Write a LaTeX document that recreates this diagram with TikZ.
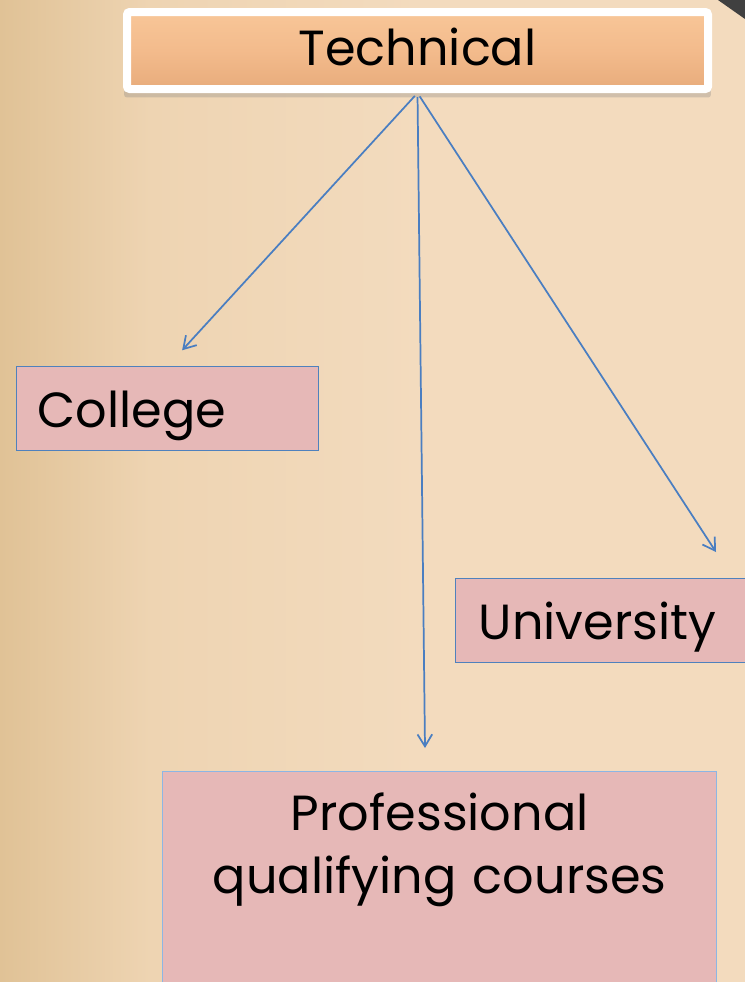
\documentclass[tikz,border=0pt]{standalone}
\usepackage{fontspec}
\setmainfont{Poppins}
\usetikzlibrary{arrows.meta,shadows}

\definecolor{bgLeft}{RGB}{224,194,150}
\definecolor{bgMid}{RGB}{238,212,178}
\definecolor{bgRight}{RGB}{243,219,190}
\definecolor{techFill}{RGB}{243,187,140}
\definecolor{techTop}{RGB}{248,198,152}
\definecolor{techBottom}{RGB}{232,172,124}
\definecolor{choiceFill}{RGB}{230,184,183}
\definecolor{choiceEdge}{RGB}{79,129,189}
\definecolor{choiceEdgeLight}{RGB}{140,182,228}
\definecolor{linkBlue}{RGB}{74,126,193}

\tikzset{
  title/.style={draw=white, line width=6pt, rounded corners=2pt, top color=techTop,
    bottom color=techBottom, middle color=techFill, inner sep=0pt,
    minimum width=435.75pt, minimum height=57.75pt,
    drop shadow={shadow xshift=0pt, shadow yshift=-6pt, shadow scale=1.01, opacity=0.3}},
  choice/.style={draw=choiceEdge, fill=choiceFill, line width=1.1pt, anchor=north west,
    inner ysep=0pt, minimum height=63pt, text height=32pt, text depth=4pt},
  link/.style={draw=linkBlue, line width=1.3pt, -{Straight Barb[length=9pt,width=11pt]}},
}

\begin{document}
\begin{tikzpicture}[x=0.75pt,y=0.75pt,yscale=-1,xscale=1,
  every node/.style={font=\fontsize{37}{47}\selectfont}]
\useasboundingbox (0,0) rectangle (745,982);
\clip (0,0) rectangle (745,982);

% background
\fill[bgRight] (0,0) rectangle (745,982);
\shade[left color=bgLeft, right color=bgMid] (0,0) rectangle (150,982);
\shade[left color=bgMid, right color=bgRight] (150,0) rectangle (420,982);
\fill[black!75] (718,0) -- (745,0) -- (745,19) -- cycle;

% boxes
\node[title, text depth=6pt] (tech) at (417.5,50.5) {Technical};
\node[choice, inner xsep=15.75pt, text width=195pt, align=left] (college) at (16,366) {College};
\node[choice, inner xsep=17.25pt, text width=213pt, align=left] (university) at (455,578) {University};
\node[choice, draw=choiceEdgeLight, inner xsep=0pt, inner ysep=16pt, text width=415.5pt,
  align=center, text height=, text depth=160pt, minimum height=0pt] (profession) at (162,771)
  {Professional\\qualifying courses};

% arrow ends
\coordinate (tipU) at (716,552);
\coordinate (tipP) at (425,748);

% arrows
\draw[link, shorten <=3pt, shorten >=16pt] (tech.south) -- (college.north);
\draw[link, shorten <=3pt] (tech.south) -- (tipU);
\draw[link, shorten <=3pt] (tech.south) -- (tipP);

\end{tikzpicture}
\end{document}
